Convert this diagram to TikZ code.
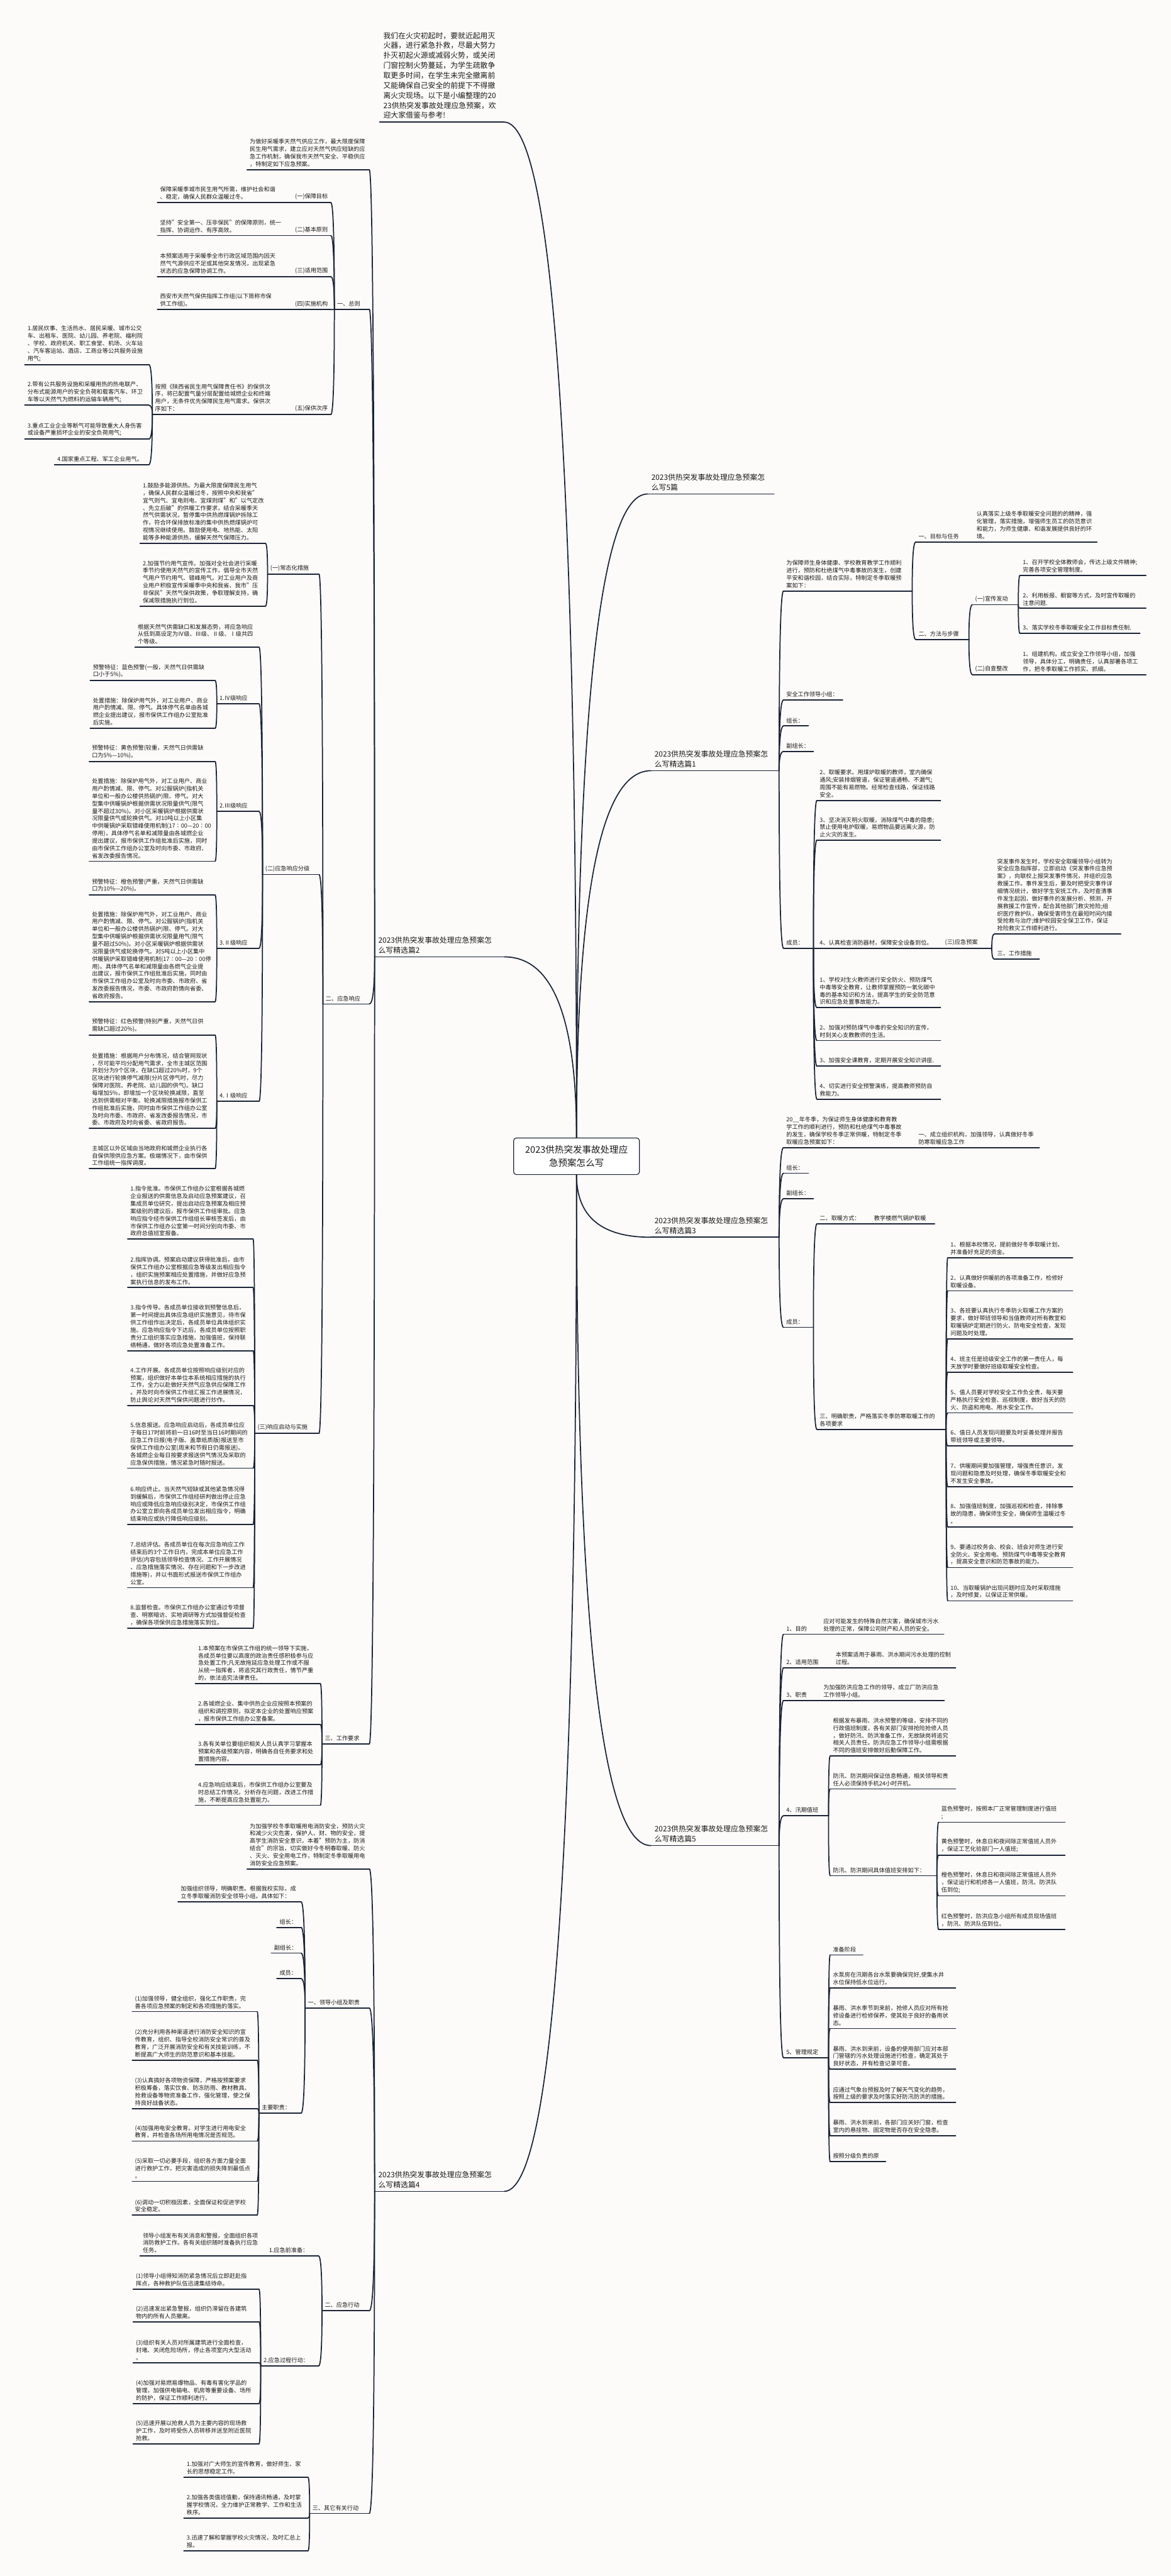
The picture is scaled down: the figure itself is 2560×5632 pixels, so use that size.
\documentclass[tikz,border=0pt]{standalone}
\usepackage{fontspec}
\setmainfont{Noto Sans CJK SC}
\usetikzlibrary{calc}
\definecolor{bgc}{RGB}{253,251,250}
\definecolor{lnc}{RGB}{27,36,54}
\definecolor{txc}{RGB}{26,26,26}
\tikzset{
 tn/.style={anchor=south west, align=left, inner xsep=6pt, inner ysep=6pt, font=\fontsize{12.6pt}{16.3pt}\selectfont, text=txc},
 tb/.style={anchor=south west, align=left, inner xsep=8pt, inner ysep=7pt, font=\fontsize{16.3pt}{21.8pt}\selectfont, text=txc},
 ul/.style={draw=lnc, line width=2.4pt, line cap=round},
 cnl/.style={draw=lnc, line width=2.4pt, line cap=round},
 rootbox/.style={draw=lnc, line width=1.6pt, fill=white, rounded corners=6pt, align=center, minimum width=275pt, minimum height=80pt, inner sep=4pt, font=\fontsize{20pt}{29pt}\selectfont, text=txc}
}
\newcommand\nd[5]{\pgfmathsetmacro\tw{#3-#2-12}\node[tn,text width=\tw pt] (#1) at (#2,#4) {#5};\draw[ul] (#1.south west) -- (#1.south east);}
\newcommand\ndb[5]{\pgfmathsetmacro\tw{#3-#2-16}\node[tb,text width=\tw pt] (#1) at (#2,#4) {#5};\draw[ul] (#1.south west) -- (#1.south east);}
\newcommand\myconn[2]{\draw[cnl] (#1) .. controls ($(#1)!0.667!(#1|-#2)$) and ($(#2)!0.667!(#1|-#2)$) .. (#2);}
\newcommand\cnL[2]{\myconn{#1.south west}{#2.south east}}
\newcommand\cnR[2]{\myconn{#1.south east}{#2.south west}}
\begin{document}
\begin{tikzpicture}[x=1pt,y=-1pt]
\useasboundingbox (0,0) rectangle (2560,5632);
\fill[bgc] (0,0) rectangle (2560,5632);

% root
\node[rootbox] (root) at (1260.5,2528) {2023供热突发事故处理应\\急预案怎么写};

% intro
\ndb{INTRO}{830}{1102}{267}{我们在火灾初起时，要就近起用灭\\火器，进行紧急扑救，尽最大努力\\扑灭初起火源或减弱火势，或关闭\\门窗控制火势蔓延，为学生疏散争\\取更多时间，在学生未完全撤离前\\又能确保自己安全的前提下不得撤\\离火灾现场。以下是小编整理的20\\23供热突发事故处理应急预案，欢\\迎大家借鉴与参考!}

% ================= 篇2 =================
\ndb{T2}{819}{1102}{2092}{2023供热突发事故处理应急预案怎\\么写精选篇2}
\nd{A0}{540}{807}{371}{为做好采暖季天然气供应工作，最大限度保障\\民生用气需求，建立应对天然气供应短缺的应\\急工作机制，确保我市天然气安全、平稳供应\\，特制定如下应急预案。}
\nd{A1}{731}{807}{676}{一、总则}
\nd{A1a}{639}{723}{443}{(一)保障目标}
\nd{A1a1}{344}{639}{443}{保障采暖季城市民生用气所需，维护社会和谐\\、稳定，确保人民群众温暖过冬。}
\nd{A1b}{639}{723}{515}{(二)基本原则}
\nd{A1b1}{344}{639}{515}{坚持"安全第一、压非保民"的保障原则，统一\\指挥、协调运作、有序高效。}
\nd{A1c}{639}{723}{605}{(三)适用范围}
\nd{A1c1}{344}{639}{605}{本预案适用于采暖季全市行政区域范围内因天\\然气气源供应不足或其他突发情况，出现紧急\\状态的应急保障协调工作。}
\nd{A1d}{639}{723}{677}{(四)实施机构}
\nd{A1d1}{344}{639}{677}{西安市天然气保供指挥工作组(以下简称市保\\供工作组)。}
\nd{A1e}{639}{723}{906}{(五)保供次序}
\nd{A1e1}{333}{639}{906}{按照《陕西省民生用气保障责任书》的保供次\\序，将已配置气量分层配置给城燃企业和终端\\用户，无条件优先保障民生用气需求。保供次\\序如下：}
\nd{I1}{54}{325}{797}{1.居民炊事、生活热水、居民采暖、城市公交\\车、出租车、医院、幼儿园、养老院、福利院\\、学校、政府机关、职工食堂、机场、火车站\\、汽车客运站、酒店、工商业等公共服务设施\\用气;}
\nd{I2}{54}{325}{886}{2.带有公共服务设施和采暖用热的热电联产、\\分布式能源用户的安全负荷和载客汽车、环卫\\车等以天然气为燃料的运输车辆用气;}
\nd{I3}{54}{325}{960}{3.重点工业企业等断气可能导致重大人身伤害\\或设备严重损坏企业的安全负荷用气;}
\nd{I4}{119}{325}{1016}{4.国家重点工程、军工企业用气。}

\nd{A2}{706}{807}{2195}{二、应急响应}
\nd{A2a}{585}{697}{1255}{(一)常态化措施}
\nd{A2a1}{306}{580}{1188}{1.鼓励多能源供热。为最大限度保障民生用气\\，确保人民群众温暖过冬，按照中央和我省"\\宜气则气、宜电则电、宜煤则煤"和"以气定改\\、先立后破"的供暖工作要求，结合采暖季天\\然气供需状况，暂停集中供热燃煤锅炉拆除工\\作，符合环保排放标准的集中供热燃煤锅炉可\\视情况继续使用。鼓励使用电、地热能、太阳\\能等多种能源供热，缓解天然气保障压力。}
\nd{A2a2}{306}{580}{1325}{2.加强节约用气宣传。加强对全社会进行采暖\\季节约使用天然气的宣传工作，倡导全市天然\\气用户节约用气、错峰用气。对工业用户及商\\业用户积极宣传采暖季中央和我省、我市"压\\非保民"天然气保供政策，争取理解支持，确\\保减限措施执行到位。}
\nd{A2b}{574}{697}{1912}{(二)应急响应分级}
\nd{A2b0}{295}{566}{1415}{根据天然气供需缺口和发展态势，将应急响应\\从低到高设定为Ⅳ级、Ⅲ级、Ⅱ级、Ⅰ级共四\\个等级。}
\nd{A2b1}{474}{566}{1539}{1.Ⅳ级响应}
\nd{A2b1a}{197}{470}{1488}{预警特征：蓝色预警(一般，天然气日供需缺\\口小于5\%)。}
\nd{A2b1b}{197}{470}{1592}{处置措施：除保炉用气外，对工业用户、商业\\用户酌情减、限、停气。具体停气名单由各城\\燃企业提出建议，报市保供工作组办公室批准\\后实施。}
\nd{A2b2}{474}{566}{1774}{2.Ⅲ级响应}
\nd{A2b2a}{195}{470}{1665}{预警特征：黄色预警(较重，天然气日供需缺\\口为5\%—10\%)。}
\nd{A2b2b}{195}{470}{1883}{处置措施：除保炉用气外，对工业用户、商业\\用户酌情减、限、停气。对公服锅炉(指机关\\单位和一般办公楼供热锅炉)限、停气。对大\\型集中供暖锅炉根据供需状况限量供气(限气\\量不超过30\%)。对小区采暖锅炉根据供需状\\况限量供气或轮换供气。对10吨以上小区集\\中供暖锅炉采取错峰使用机制(17∶00—20∶00\\停用)，具体停气名单和减限量由各城燃企业\\提出建议，报市保供工作组批准后实施，同时\\由市保供工作组办公室及时向市委、市政府、\\省发改委报告情况。}
\nd{A2b3}{474}{566}{2073}{3.Ⅱ级响应}
\nd{A2b3a}{195}{470}{1957}{预警特征：橙色预警(严重，天然气日供需缺\\口为10\%—20\%)。}
\nd{A2b3b}{195}{470}{2190}{处置措施：除保炉用气外，对工业用户、商业\\用户酌情减、限、停气。对公服锅炉(指机关\\单位和一般办公楼供热锅炉)限、停气。对大\\型集中供暖锅炉根据供需状况限量用气(限气\\量不超过50\%)。对小区采暖锅炉根据供需状\\况限量供气或轮换停气。对5吨以上小区集中\\供暖锅炉采取错峰使用机制(17∶00—20∶00停\\用)。具体停气名单和减限量由各燃气企业提\\出建议，报市保供工作组批准后实施，同时由\\市保供工作组办公室及时向市委、市政府、省\\发改委报告情况，市委、市政府酌情向省委、\\省政府报告。}
\nd{A2b4}{474}{566}{2408}{4.Ⅰ级响应}
\nd{A2b4a}{195}{470}{2263}{预警特征：红色预警(特别严重，天然气日供\\需缺口超过20\%)。}
\nd{A2b4b}{195}{470}{2467}{处置措施：根据用户分布情况，结合管网现状\\，尽可能平均分配用气需求，全市主城区范围\\共划分为9个区块，在缺口超过20\%时，9个\\区块进行轮换停气减限(分片区停气时，尽力\\保障对医院、养老院、幼儿园的供气)。缺口\\每增加5\%，即增加一个区块轮换减限，直至\\达到供需相对平衡。轮换减限措施报市保供工\\作组批准后实施，同时由市保供工作组办公室\\及时向市委、市政府、省发改委报告情况，市\\委、市政府及时向省委、省政府报告。}
\nd{A2b4c}{195}{470}{2555}{主城区以外区域由当地政府和城燃企业执行各\\自保供限供应急方案。极端情况下，由市保供\\工作组统一指挥调度。}
\nd{A2c}{557}{697}{3134}{(三)响应启动与实施}
\nd{A2c1}{279}{553}{2709}{1.指令批准。市保供工作组办公室根据各城燃\\企业报送的供需信息及启动应急预案建议，召\\集成员单位研究，提出启动应急预案及相应预\\案级别的建议后，报市保供工作组审批。应急\\响应指令经市保供工作组组长审核签发后，由\\市保供工作组办公室第一时间分别向市委、市\\政府总值班室报备。}
\nd{A2c2}{279}{553}{2815}{2.指挥协调。预案启动建议获得批准后，由市\\保供工作组办公室根据应急等级发出相应指令\\，组织实施预案相应处置措施，并做好应急预\\案执行信息的发布工作。}
\nd{A2c3}{279}{553}{2953}{3.指令传导。各成员单位接收到预警信息后，\\第一时间提出具体应急组织实施意见，待市保\\供工作组作出决定后，各成员单位具体组织实\\施。应急响应指令下达后，各成员单位按照职\\责分工组织落实应急措施，加强值班，保持联\\络畅通，做好各项应急处置准备工作。}
\nd{A2c4}{279}{553}{3073}{4.工作开展。各成员单位按照响应级别对应的\\预案，组织做好本单位本系统相应措施的执行\\工作，全力以赴做好天然气应急供应保障工作\\。并及时向市保供工作组汇报工作进展情况，\\防止舆论对天然气保供问题进行炒作。}
\nd{A2c5}{279}{553}{3210}{5.信息报送。应急响应启动后，各成员单位应\\于每日17时前将前一日16时至当日16时期间的\\应急工作日报(电子版、盖章纸质版)报送至市\\保供工作组办公室(周末和节假日仍需报送)。\\各城燃企业每日按要求报送供气情况及采取的\\应急保供措施，情况紧急时随时报送。}
\nd{A2c6}{279}{553}{3333}{6.响应终止。当天然气短缺或其他紧急情况得\\到缓解后，市保供工作组经研判做出停止应急\\响应或降低应急响应级别决定，市保供工作组\\办公室立即向各成员单位发出相应指令，明确\\结束响应或执行降低响应级别。}
\nd{A2c7}{279}{553}{3471}{7.总结评估。各成员单位在每次应急响应工作\\结束后的3个工作日内，完成本单位应急工作\\评估(内容包括领导检查情况、工作开展情况\\、应急措施落实情况、存在问题和下一步改进\\措施等)，并以书面形式报送市保供工作组办\\公室。}
\nd{A2c8}{279}{553}{3560}{8.监督检查。市保供工作组办公室通过专项督\\查、明察暗访、实地调研等方式加强督促检查\\，确保各项保供应急措施落实到位。}

\nd{A3}{704}{807}{3813}{三、工作要求}
\nd{A3a}{427}{700}{3681}{1.本预案在市保供工作组的统一领导下实施，\\各成员单位要以高度的政治责任感积极参与应\\急处置工作;凡无故拖延应急处理工作或不服\\从统一指挥者，将追究其行政责任，情节严重\\的，依法追究法律责任。}
\nd{A3b}{427}{700}{3770}{2.各城燃企业、集中供热企业应按照本预案的\\组织和调控原则，拟定本企业的处置响应预案\\，报市保供工作组办公室备案。}
\nd{A3c}{427}{700}{3858}{3.各有关单位要组织相关人员认真学习掌握本\\预案和各级预案内容，明确各自任务要求和处\\置措施内容。}
\nd{A3d}{427}{700}{3947}{4.应急响应结束后，市保供工作组办公室要及\\时总结工作情况，分析存在问题，改进工作措\\施，不断提高应急处置能力。}

% ================= 篇4 =================
\ndb{T4}{819}{1102}{4791}{2023供热突发事故处理应急预案怎\\么写精选篇4}
\nd{B0}{540}{807}{4086}{为加强学校冬季取暖用电消防安全，预防火灾\\和减少火灾危害，保护人、财、物的安全，提\\高学生消防安全意识，本着"预防为主，防消\\结合"的宗旨，切实做好今冬明春取暖、防火\\、灭火、安全用电工作，特制定冬季取暖用电\\消防安全应急预案。}
\nd{B1}{667}{807}{4390}{一、领导小组及职责}
\nd{B1a}{389}{658}{4158}{加强组织领导，明确职责。根据我校实际，成\\立冬季取暖消防安全领导小组。具体如下：}
\nd{B1b}{605}{658}{4214}{组长：}
\nd{B1c}{593}{658}{4270}{副组长：}
\nd{B1d}{605}{658}{4326}{成员：}
\nd{B1e}{566}{658}{4620}{主要职责：}
\nd{B1e1}{289}{562}{4398}{(1)加强领导，健全组织，强化工作职责，完\\善各项应急预案的制定和各项措施的落实。}
\nd{B1e2}{289}{562}{4504}{(2)充分利用各种渠道进行消防安全知识的宣\\传教育，组织、指导全校消防安全常识的普及\\教育，广泛开展消防安全和有关技能训练，不\\断提高广大师生的防范意识和基本技能。}
\nd{B1e3}{289}{562}{4610}{(3)认真搞好各项物资保障，严格按预案要求\\积极筹备，落实饮食、防冻防雨、教材教具、\\抢救设备等物资准备工作，强化管理，使之保\\持良好战备状态。}
\nd{B1e4}{289}{562}{4681}{(4)加强用电安全教育。对学生进行用电安全\\教育，并检查各场所用电情况是否规范。}
\nd{B1e5}{289}{562}{4769}{(5)采取一切必要手段，组织各方面力量全面\\进行救护工作，把灾害造成的损失降到最低点\\。}
\nd{B1e6}{289}{562}{4843}{(6)调动一切积极因素，全面保证和促进学校\\安全稳定。}
\nd{B2}{704}{807}{5052}{二、应急行动}
\nd{B2a}{582}{696}{4932}{1.应急前准备：}
\nd{B2a1}{306}{582}{4932}{领导小组发布有关消息和警报，全面组织各项\\消防救护工作。各有关组织随时准备执行应急\\任务。}
\nd{B2b}{570}{696}{5173}{2.应急过程行动：}
\nd{B2b1}{291}{566}{5005}{(1)领导小组得知消防紧急情况后立即赶赴指\\挥点，各种救护队伍迅速集结待命。}
\nd{B2b2}{291}{566}{5076}{(2)迅速发出紧急警报，组织仍滞留在各建筑\\物内的所有人员撤离。}
\nd{B2b3}{291}{566}{5166}{(3)组织有关人员对所属建筑进行全面检查，\\封堵、关闭危险场所，停止各项室内大型活动\\。}
\nd{B2b4}{291}{566}{5255}{(4)加强对易燃易爆物品、有毒有害化学品的\\管理，加强供电输电、机房等重要设备、场所\\的防护，保证工作顺利进行。}
\nd{B2b5}{291}{566}{5343}{(5)迅速开展以抢救人员为主要内容的现场救\\护工作，及时将受伤人员转移并送至附近医院\\抢救。}
\nd{B3}{677}{807}{5495}{三、其它有关行动}
\nd{B3a}{402}{673}{5416}{1.加强对广大师生的宣传教育，做好师生、家\\长的思想稳定工作。}
\nd{B3b}{402}{673}{5505}{2.加强各类值班值勤，保持通讯畅通，及时掌\\握学校情况，全力维护正常教学、工作和生活\\秩序。}
\nd{B3c}{402}{673}{5577}{3.迅速了解和掌握学校火灾情况，及时汇总上\\报。}

% ================= 5篇 =================
\ndb{T5p}{1416}{1692}{1080}{2023供热突发事故处理应急预案怎\\么写5篇}

% ================= 篇1 =================
\ndb{T1}{1423}{1703}{1685}{2023供热突发事故处理应急预案怎\\么写精选篇1}
\nd{C0}{1713}{1994}{1292}{为保障师生身体健康、学校教育教学工作顺利\\进行，预防和杜绝煤气中毒事故的发生，创建\\平安和谐校园，结合实际，特制定冬季取暖预\\案如下：}
\nd{C0a}{2002}{2129}{1185}{一、目标与任务}
\nd{C0a1}{2129}{2398}{1185}{认真落实上级冬季取暖安全问题的的精神，强\\化管理，落实措施，增强师生员工的防范意识\\和能力，为师生健康、和谐发展提供良好的环\\境。}
\nd{C0b}{2002}{2118}{1398}{二、方法与步骤}
\nd{C0b1}{2126}{2226}{1322}{(一)宣传发动}
\nd{C0b1a}{2230}{2505}{1258}{1、召开学校全体教师会，传达上级文件精神;\\完善各项安全管理制度。}
\nd{C0b1b}{2230}{2505}{1330}{2、利用板报、橱窗等方式，及时宣传取暖的\\注意问题.}
\nd{C0b1c}{2230}{2492}{1385}{3、落实学校冬季取暖安全工作目标责任制.}
\nd{C0b2}{2126}{2226}{1475}{(二)自查整改}
\nd{C0b2a}{2230}{2505}{1475}{1、组建机构。成立安全工作领导小组，加强\\领导，具体分工，明确责任，认真部署各项工\\作，把冬季取暖工作抓实、抓细。}
\nd{C1}{1713}{1842}{1530}{安全工作领导小组：}
\nd{C2}{1713}{1767}{1587}{组长：}
\nd{C3}{1713}{1778}{1643}{副组长：}
\nd{C4}{1713}{1778}{2073}{成员：}
\nd{C4a}{1786}{2056}{1750}{2、取暖要求。用煤炉取暖的教师，室内确保\\通风;安装排烟管道，保证管道通畅、不漏气;\\周围不能有易燃物。经常检查线路，保证线路\\安全。}
\nd{C4b}{1786}{2056}{1837}{3、坚决消灭明火取暖，消除煤气中毒的隐患;\\禁止使用电炉取暖，易燃物品要远离火源，防\\止火灾的发生。}
\nd{C4c}{1786}{2056}{2073}{4、认真检查消防器材，保障安全设备到位。}
\nd{C4c1}{2060}{2168}{2073}{(三)应急预案}
\nd{C4c1a}{2174}{2450}{2042}{突发事件发生时，学校安全取暖领导小组转为\\安全应急指挥部，立即启动《突发事件应急预\\案》，向联校上报突发事件情况，并组织应急\\救援工作。事件发生后，要及时把受灾事件详\\细情况统计，做好学生安抚工作，及时查清事\\件发生起因，做好事件的发展分析、预测，开\\展救援工作宣传，配合其他部门救灾抢险;组\\织医疗救护队，确保受害师生在最短时间内接\\受抢救与治疗;维护校园安全保卫工作，保证\\抢险救灾工作顺利进行。}
\nd{C4c1b}{2174}{2272}{2097}{三、工作措施}
\nd{C4d}{1786}{2056}{2203}{1、学校对生火教师进行安全防火、预防煤气\\中毒等安全教育，让教师掌握预防一氧化碳中\\毒的基本知识和方法，提高学生的安全防范意\\识和应急处置事故能力。}
\nd{C4e}{1786}{2056}{2275}{2、加强对预防煤气中毒的安全知识的宣传，\\时刻关心支教教师的生活。}
\nd{C4f}{1786}{2056}{2331}{3、加强安全课教育，定期开展安全知识讲座.}
\nd{C4g}{1786}{2056}{2403}{4、切实进行安全预警演练，提高教师预防自\\救能力。}

% ================= 篇3 =================
\ndb{T3}{1423}{1703}{2705}{2023供热突发事故处理应急预案怎\\么写精选篇3}
\nd{D0}{1713}{2002}{2509}{20\_\_年冬季，为保证师生身体健康和教育教\\学工作的顺利进行，预防和杜绝煤气中毒事故\\的发生，确保学校冬季正常供暖，特制定冬季\\取暖应急预案如下：}
\nd{D0a}{2002}{2272}{2509}{一、成立组织机构，加强领导，认真做好冬季\\防寒取暖应急工作}
\nd{D1}{1713}{1767}{2565}{组长：}
\nd{D2}{1713}{1778}{2621}{副组长：}
\nd{D3}{1713}{1778}{2902}{成员：}
\nd{D3a}{1786}{1905}{2676}{二、取暖方式：}
\nd{D3a1}{1905}{2043}{2676}{教学楼燃气锅炉取暖}
\nd{D3b}{1786}{2068}{3125}{三、明确职责，严格落实冬季防寒取暖工作的\\各项要求}
\nd{D3bA}{2072}{2345}{2750}{1、根据本校情况，提前做好冬季取暖计划，\\并准备好充足的资金。}
\nd{D3bB}{2072}{2345}{2822}{2、认真做好供暖前的各项准备工作，检修好\\取暖设备。}
\nd{D3bC}{2072}{2345}{2927}{3、各班要认真执行冬季防火取暖工作方案的\\要求，做好带班领导和当值教师对所有教室和\\取暖锅炉定期进行防火、防电安全检查，发现\\问题及时处理。}
\nd{D3bD}{2072}{2345}{3000}{4、班主任是班级安全工作的第一责任人，每\\天放学时要做好班级取暖安全检查。}
\nd{D3bE}{2072}{2345}{3089}{5、值人员要对学校安全工作负全责，每天要\\严格执行安全检查、巡视制度，做好当天的防\\火、防盗和用电、用水安全工作。}
\nd{D3bF}{2072}{2345}{3161}{6、值日人员发现问题要及时妥善处理并报告\\带班领导或主要领导。}
\nd{D3bG}{2072}{2345}{3250}{7、供暖期间要加强管理，增强责任意识，发\\现问题和隐患及时处理，确保冬季取暖安全和\\不发生安全事故。}
\nd{D3bH}{2072}{2345}{3338}{8、加强值班制度，加强巡视和检查，排除事\\故的隐患，确保师生安全，确保师生温暖过冬\\。}
\nd{D3bI}{2072}{2345}{3427}{9、要通过校务会、校会、班会对师生进行安\\全防火、安全用电、预防煤气中毒等安全教育\\，提高安全意识和防范事故的能力。}
\nd{D3bJ}{2072}{2345}{3500}{10、当取暖锅炉出现问题时应及时采取措施\\，及时修复，以保证正常供暖。}

% ================= 篇5 =================
\ndb{T5}{1423}{1703}{4035}{2023供热突发事故处理应急预案怎\\么写精选篇5}
\nd{E1}{1713}{1794}{3573}{1、目的}
\nd{E1a}{1794}{2063}{3573}{应对可能发生的特殊自然灾害，确保城市污水\\处理的正常，保障公司财产和人员的安全。}
\nd{E2}{1713}{1821}{3646}{2、适用范围}
\nd{E2a}{1821}{2089}{3646}{本预案适用于暴雨、洪水期间污水处理的控制\\过程。}
\nd{E3}{1713}{1794}{3718}{3、职责}
\nd{E3a}{1794}{2064}{3718}{为加强防洪应急工作的领导，成立厂防洪应急\\工作领导小组。}
\nd{E4}{1713}{1811}{3970}{4、汛期值班}
\nd{E4a}{1815}{2089}{3839}{根据发布暴雨、洪水预警的等级，安排不同的\\行政值班制度，各有关部门安排抢险抢修人员\\，做好防汛、防洪准备工作，无故缺岗将追究\\相关人员责任。防洪应急工作领导小组需根据\\不同的值班安排做好后勤保障工作。}
\nd{E4b}{1815}{2089}{3911}{防汛、防洪期间保证信息畅通，相关领导和责\\任人必须保持手机24小时开机。}
\nd{E4c}{1815}{2048}{4101}{防汛、防洪期间具体值班安排如下：}
\nd{E4c1}{2052}{2328}{3984}{蓝色预警时，按照本厂正常管理制度进行值班\\;}
\nd{E4c2}{2052}{2328}{4056}{黄色预警时，休息日和夜间除正常值班人员外\\，保证工艺化验部门一人值班;}
\nd{E4c3}{2052}{2328}{4145}{橙色预警时，休息日和夜间除正常值班人员外\\，保证运行和机修各一人值班，防汛、防洪队\\伍到位;}
\nd{E4c4}{2052}{2328}{4218}{红色预警时，防洪应急小组所有成员现场值班\\，防汛、防洪队伍到位。}
\nd{E5}{1713}{1811}{4499}{5、管理规定}
\nd{E5a}{1815}{1886}{4274}{准备阶段}
\nd{E5b}{1815}{2089}{4346}{水泵房在汛期各台水泵要确保完好,使集水井\\水位保持低水位运行。}
\nd{E5c}{1815}{2089}{4435}{暴雨、洪水季节到来前，抢修人员应对所有抢\\修设备进行检修保养，使其处于良好的备用状\\态。}
\nd{E5d}{1815}{2089}{4524}{暴雨、洪水到来前，设备的使用部门应对本部\\门管辖的污水处理设施进行检查，确定其处于\\良好状态，并有检查记录可查。}
\nd{E5e}{1815}{2089}{4597}{应通过气象台预报及时了解天气变化的趋势，\\按照上级的要求及时落实好防汛防洪的措施。}
\nd{E5f}{1815}{2089}{4669}{暴雨、洪水到来前，各部门应关好门窗，检查\\室内的悬挂物、固定物是否存在安全隐患。}
\nd{E5g}{1815}{1936}{4726}{按照分级负责的原}

% ================= connectors =================
\myconn{root.north}{INTRO.south east}
\myconn{root.north}{T2.south east}
\myconn{root.north}{T5p.south west}
\myconn{root.north}{T1.south west}
\myconn{root.south}{T3.south west}
\myconn{root.south}{T5.south west}
\myconn{root.south}{T4.south east}

\foreach \c in {A0,A1,A2,A3} {\cnL{T2}{\c}}
\foreach \c in {A1a,A1b,A1c,A1d,A1e} {\cnL{A1}{\c}}
\cnL{A1a}{A1a1} \cnL{A1b}{A1b1} \cnL{A1c}{A1c1} \cnL{A1d}{A1d1} \cnL{A1e}{A1e1}
\foreach \c in {I1,I2,I3,I4} {\cnL{A1e1}{\c}}
\foreach \c in {A2a,A2b,A2c} {\cnL{A2}{\c}}
\foreach \c in {A2a1,A2a2} {\cnL{A2a}{\c}}
\foreach \c in {A2b0,A2b1,A2b2,A2b3,A2b4} {\cnL{A2b}{\c}}
\foreach \c in {A2b1a,A2b1b} {\cnL{A2b1}{\c}}
\foreach \c in {A2b2a,A2b2b} {\cnL{A2b2}{\c}}
\foreach \c in {A2b3a,A2b3b} {\cnL{A2b3}{\c}}
\foreach \c in {A2b4a,A2b4b,A2b4c} {\cnL{A2b4}{\c}}
\foreach \c in {A2c1,A2c2,A2c3,A2c4,A2c5,A2c6,A2c7,A2c8} {\cnL{A2c}{\c}}
\foreach \c in {A3a,A3b,A3c,A3d} {\cnL{A3}{\c}}

\foreach \c in {B0,B1,B2,B3} {\cnL{T4}{\c}}
\foreach \c in {B1a,B1b,B1c,B1d,B1e} {\cnL{B1}{\c}}
\foreach \c in {B1e1,B1e2,B1e3,B1e4,B1e5,B1e6} {\cnL{B1e}{\c}}
\foreach \c in {B2a,B2b} {\cnL{B2}{\c}}
\cnL{B2a}{B2a1}
\foreach \c in {B2b1,B2b2,B2b3,B2b4,B2b5} {\cnL{B2b}{\c}}
\foreach \c in {B3a,B3b,B3c} {\cnL{B3}{\c}}

\foreach \c in {C0,C1,C2,C3,C4} {\cnR{T1}{\c}}
\foreach \c in {C0a,C0b} {\cnR{C0}{\c}}
\cnR{C0a}{C0a1}
\foreach \c in {C0b1,C0b2} {\cnR{C0b}{\c}}
\foreach \c in {C0b1a,C0b1b,C0b1c} {\cnR{C0b1}{\c}}
\cnR{C0b2}{C0b2a}
\foreach \c in {C4a,C4b,C4c,C4d,C4e,C4f,C4g} {\cnR{C4}{\c}}
\cnR{C4c}{C4c1}
\foreach \c in {C4c1a,C4c1b} {\cnR{C4c1}{\c}}

\foreach \c in {D0,D1,D2,D3} {\cnR{T3}{\c}}
\cnR{D0}{D0a}
\foreach \c in {D3a,D3b} {\cnR{D3}{\c}}
\cnR{D3a}{D3a1}
\foreach \c in {D3bA,D3bB,D3bC,D3bD,D3bE,D3bF,D3bG,D3bH,D3bI,D3bJ} {\cnR{D3b}{\c}}

\foreach \c in {E1,E2,E3,E4,E5} {\cnR{T5}{\c}}
\cnR{E1}{E1a} \cnR{E2}{E2a} \cnR{E3}{E3a}
\foreach \c in {E4a,E4b,E4c} {\cnR{E4}{\c}}
\foreach \c in {E4c1,E4c2,E4c3,E4c4} {\cnR{E4c}{\c}}
\foreach \c in {E5a,E5b,E5c,E5d,E5e,E5f,E5g} {\cnR{E5}{\c}}
\end{tikzpicture}
\end{document}
